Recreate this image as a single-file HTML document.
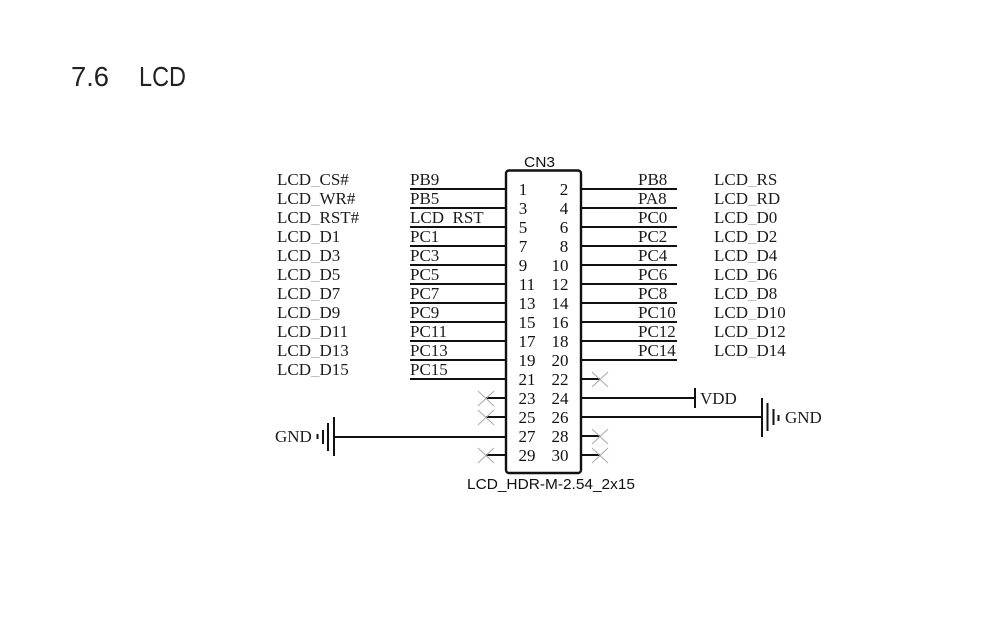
<!DOCTYPE html>
<html>
<head>
<meta charset="utf-8">
<style>
html,body{margin:0;padding:0;background:#fff;width:982px;height:627px;overflow:hidden}
svg{display:block}
.s{font-family:"Liberation Serif",serif;font-size:17px;fill:#1c1c1c}
.n{font-family:"Liberation Serif",serif;font-size:17px;fill:#111}
.a{font-family:"Liberation Sans",sans-serif;font-size:15px;fill:#111}
.t{font-family:"Liberation Sans",sans-serif;font-size:28px;fill:#222}
.w{stroke:#111;stroke-width:2;fill:none}
.x{stroke:#aaa;stroke-width:1;fill:none}
.u{fill:#b5b5b5}
.h{fill:none}
</style>
</head>
<body>
<svg width="982" height="627" viewBox="0 0 982 627" xmlns="http://www.w3.org/2000/svg">
<text class="t" x="71" y="86" textLength="38" lengthAdjust="spacingAndGlyphs">7.6</text>
<text class="t" x="139" y="86" textLength="47" lengthAdjust="spacingAndGlyphs">LCD</text>

<text class="a" x="524" y="167" textLength="31" lengthAdjust="spacingAndGlyphs">CN3</text>
<text class="a" x="467" y="489" textLength="168" lengthAdjust="spacingAndGlyphs">LCD_HDR-M-2.54_2x15</text>
<rect x="506" y="170.500" width="75" height="302.500" rx="3" fill="none" stroke="#111" stroke-width="2.400"/>

<!-- left wires -->
<path class="w" d="M410 189H506M410 208H506M410 227H506M410 246H506M410 265H506M410 284H506M410 303H506M410 322H506M410 341H506M410 360H506M410 379H506M486 398H506M486 417H506M334 437H506M486 455H506"/>
<!-- right wires -->
<path class="w" d="M581 189H677M581 208H677M581 227H677M581 246H677M581 265H677M581 284H677M581 303H677M581 322H677M581 341H677M581 360H677M581 379H600M581 398H695M581 417H762M581 436H600M581 455H600"/>

<!-- no-connect marks -->
<path class="x" d="M478 391L494 406M494 391L478 406M478 410L494 425M494 410L478 425M478 448L494 463M494 448L478 463"/>
<path class="x" d="M592 372L608 387M608 372L592 387M592 429L608 444M608 429L592 444M592 448L608 463M608 448L592 463"/>

<!-- VDD -->
<path class="w" d="M695 388V408"/>
<text class="s" x="700" y="404">VDD</text>
<!-- GND right -->
<path class="w" d="M762 398V437M767.500 403V431M773.500 409V425M778.500 415V421"/>
<text class="s" x="785" y="423">GND</text>
<!-- GND left -->
<path class="w" d="M334 417V456M328 423V451M323 430V444M317.500 434V439"/>
<text class="s" x="275" y="442">GND</text>

<!-- left labels -->
<g class="s">
<text x="277" y="185">LCD<tspan class="u">_</tspan>CS#</text>
<text x="277" y="204">LCD<tspan class="u">_</tspan>WR#</text>
<text x="277" y="223">LCD<tspan class="u">_</tspan>RST#</text>
<text x="277" y="242">LCD<tspan class="u">_</tspan>D1</text>
<text x="277" y="261">LCD<tspan class="u">_</tspan>D3</text>
<text x="277" y="280">LCD<tspan class="u">_</tspan>D5</text>
<text x="277" y="299">LCD<tspan class="u">_</tspan>D7</text>
<text x="277" y="318">LCD<tspan class="u">_</tspan>D9</text>
<text x="277" y="337">LCD<tspan class="u">_</tspan>D11</text>
<text x="277" y="356">LCD<tspan class="u">_</tspan>D13</text>
<text x="277" y="375">LCD<tspan class="u">_</tspan>D15</text>
<text x="410" y="185">PB9</text>
<text x="410" y="204">PB5</text>
<text x="410" y="223">LCD<tspan class="h">_</tspan>RST</text>
<text x="410" y="242">PC1</text>
<text x="410" y="261">PC3</text>
<text x="410" y="280">PC5</text>
<text x="410" y="299">PC7</text>
<text x="410" y="318">PC9</text>
<text x="410" y="337">PC11</text>
<text x="410" y="356">PC13</text>
<text x="410" y="375">PC15</text>
</g>
<!-- right labels -->
<g class="s">
<text x="638" y="185">PB8</text>
<text x="638" y="204">PA8</text>
<text x="638" y="223">PC0</text>
<text x="638" y="242">PC2</text>
<text x="638" y="261">PC4</text>
<text x="638" y="280">PC6</text>
<text x="638" y="299">PC8</text>
<text x="638" y="318">PC10</text>
<text x="638" y="337">PC12</text>
<text x="638" y="356">PC14</text>
<text x="714" y="185">LCD<tspan class="u">_</tspan>RS</text>
<text x="714" y="204">LCD<tspan class="u">_</tspan>RD</text>
<text x="714" y="223">LCD<tspan class="u">_</tspan>D0</text>
<text x="714" y="242">LCD<tspan class="u">_</tspan>D2</text>
<text x="714" y="261">LCD<tspan class="u">_</tspan>D4</text>
<text x="714" y="280">LCD<tspan class="u">_</tspan>D6</text>
<text x="714" y="299">LCD<tspan class="u">_</tspan>D8</text>
<text x="714" y="318">LCD<tspan class="u">_</tspan>D10</text>
<text x="714" y="337">LCD<tspan class="u">_</tspan>D12</text>
<text x="714" y="356">LCD<tspan class="u">_</tspan>D14</text>
</g>
<!-- pin numbers -->
<g class="n" text-anchor="middle">
<text x="523" y="195">1</text><text x="564" y="195">2</text>
<text x="523" y="214">3</text><text x="564" y="214">4</text>
<text x="523" y="233">5</text><text x="564" y="233">6</text>
<text x="523" y="252">7</text><text x="564" y="252">8</text>
<text x="523" y="271">9</text><text x="560" y="271">10</text>
<text x="527" y="290">11</text><text x="560" y="290">12</text>
<text x="527" y="309">13</text><text x="560" y="309">14</text>
<text x="527" y="328">15</text><text x="560" y="328">16</text>
<text x="527" y="347">17</text><text x="560" y="347">18</text>
<text x="527" y="366">19</text><text x="560" y="366">20</text>
<text x="527" y="385">21</text><text x="560" y="385">22</text>
<text x="527" y="404">23</text><text x="560" y="404">24</text>
<text x="527" y="423">25</text><text x="560" y="423">26</text>
<text x="527" y="442">27</text><text x="560" y="442">28</text>
<text x="527" y="461">29</text><text x="560" y="461">30</text>
</g>
</svg>
</body>
</html>
